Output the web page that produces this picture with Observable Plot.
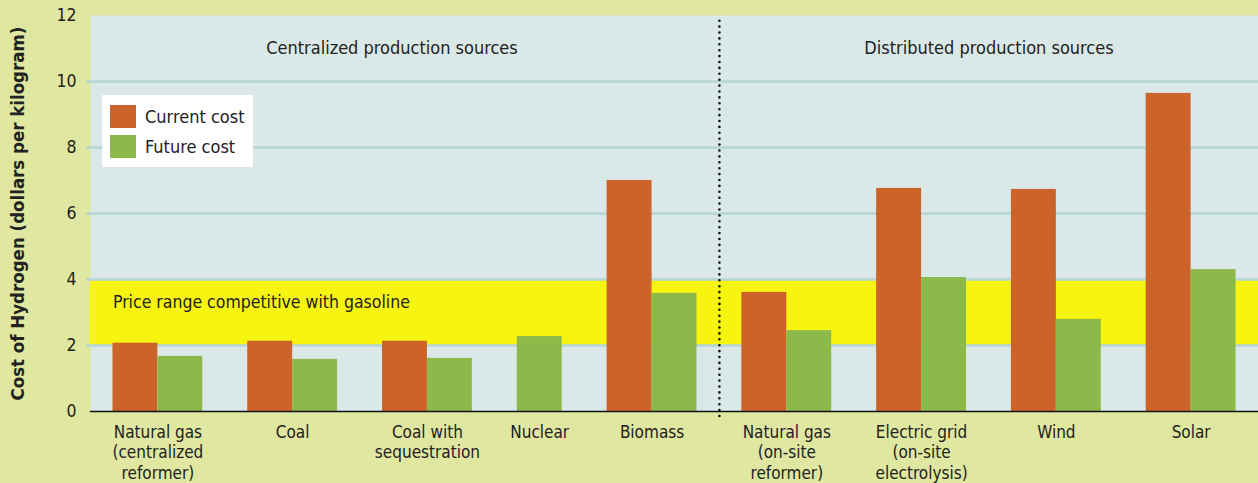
<!DOCTYPE html>
<html>
<head>
<meta charset="utf-8">
<script src="https://cdn.jsdelivr.net/npm/d3@7"></script>
<script src="https://cdn.jsdelivr.net/npm/@observablehq/plot@0.6"></script>
<style>
  html, body { margin: 0; padding: 0; background: #dfe7a0; }
  #wrap { position: relative; width: 1258px; height: 483px; }
  #legend {
    position: absolute; left: 102px; top: 95px; width: 151px; height: 72px;
    background: #ffffff; box-sizing: border-box; padding: 6px 0 0 8px;
    font-family: "Liberation Sans Narrow", "DejaVu Sans Condensed", sans-serif;
    font-size: 18px; color: #222;
  }
  #legend .row { display: flex; align-items: center; height: 30px; }
  #legend .sw { width: 26px; height: 23px; margin-right: 9px; }
</style>
</head>
<body>
<div id="wrap">
  <div id="chart"></div>
  <div id="legend"></div>
</div>
<script>
// ---- Data ----
const categories = [
  "Natural gas\n(centralized\nreformer)",
  "Coal",
  "Coal with\nsequestration",
  "Nuclear",
  "Biomass",
  "Natural gas\n(on-site\nreformer)",
  "Electric grid\n(on-site\nelectrolysis)",
  "Wind",
  "Solar"
];
const sourceGroup = ["Centralized", "Centralized", "Centralized", "Centralized", "Centralized",
                     "Distributed", "Distributed", "Distributed", "Distributed"];
const currentCost = [2.07, 2.13, 2.13, null, 7.0, 3.61, 6.76, 6.73, 9.64];
const futureCost  = [1.67, 1.58, 1.61, 2.27, 3.58, 2.45, 4.06, 2.79, 4.30];
const seriesNames = ["Current cost", "Future cost"];
const seriesColors = ["#cc632a", "#8db84a"];
const regionLabels = ["Centralized production sources", "Distributed production sources"];
const gasolineRange = [2, 4];
const gasolineLabel = "Price range competitive with gasoline";
const yTicks = [0, 2, 4, 6, 8, 10, 12];
const yLabel = "Cost of Hydrogen (dollars per kilogram)";

// ---- Build slot layout: each bar takes one slot, one empty slot between groups ----
const bars = [];
const labels = [];
let cursor = 0.5;
let dividerAt = null;
categories.forEach((cat, i) => {
  const vals = [currentCost[i], futureCost[i]];
  const present = vals.map((v, s) => ({v, s})).filter(d => d.v != null);
  if (i > 0 && sourceGroup[i] !== sourceGroup[i - 1]) dividerAt = cursor - 0.5;
  const start = cursor;
  present.forEach((d, k) => {
    bars.push({x1: start + k, x2: start + k + 1, value: d.v, series: seriesNames[d.s]});
  });
  labels.push({x: start + present.length / 2, label: cat});
  cursor += present.length + 1;
});
const xMax = cursor - 0.5;
const regions = [
  {x: dividerAt / 2, label: regionLabels[0], shift: -13},
  {x: (dividerAt + xMax) / 2, label: regionLabels[1], shift: 0}
];

const font = '"Liberation Sans Narrow", "DejaVu Sans Condensed", sans-serif';
const gridColor = "#b5d5d6";

const chart = Plot.plot({
  width: 1258,
  height: 483,
  marginLeft: 90,
  marginRight: 0,
  marginTop: 15,
  marginBottom: 72,
  style: {background: "transparent", fontFamily: font, fontSize: "17px", color: "#222", overflow: "visible"},
  x: {domain: [0, xMax], axis: null},
  y: {domain: [0, 12], axis: null},
  color: {domain: seriesNames, range: seriesColors},
  marks: [
    Plot.frame({fill: "#dae8e8", stroke: null}),
    Plot.rectY([gasolineRange], {y1: d => d[0], y2: d => d[1], fill: "#f7f410"}),
    Plot.ruleY(yTicks.filter(t => t > 0 && t < 12), {stroke: gridColor, strokeWidth: 2.5, insetLeft: -4}),
    Plot.axisY({ticks: yTicks, tickSize: 0, tickPadding: 14, fontSize: 17.5, label: null}),
    Plot.text([yLabel], {frameAnchor: "left", textAnchor: "middle", rotate: -90, dx: -72, fontSize: 18.5, fontWeight: "bold", fill: "#222"}),
    Plot.text([gasolineLabel], {x: 0.5, y: (gasolineRange[0] + gasolineRange[1]) / 2, textAnchor: "start", dy: -10, fontSize: 17.5, fill: "#222"}),
    Plot.rectY(bars, {x1: "x1", x2: "x2", y: "value", fill: "series"}),
    Plot.ruleX([dividerAt], {y1: 0, y2: 12, stroke: "#111", strokeWidth: 2.6, strokeDasharray: "0,5.9", strokeLinecap: "round", insetTop: 5}),
    Plot.ruleY([0], {stroke: "#111", strokeWidth: 1.6}),
    Plot.text(regions.slice(0, 1), {x: "x", y: 11, text: "label", fontSize: 18, fill: "#222", dx: regions[0].shift}),
    Plot.text(regions.slice(1), {x: "x", y: 11, text: "label", fontSize: 18, fill: "#222", dx: regions[1].shift}),
    Plot.text(labels, {x: "x", y: 0, text: "label", lineAnchor: "top", dy: 12, fontSize: 17, lineHeight: 1.2, fill: "#222"})
  ]
});
document.getElementById("chart").appendChild(chart);

// ---- Legend ----
const legend = document.getElementById("legend");
seriesNames.forEach((name, i) => {
  const row = document.createElement("div");
  row.className = "row";
  const sw = document.createElement("div");
  sw.className = "sw";
  sw.style.background = seriesColors[i];
  const t = document.createElement("span");
  t.textContent = name;
  row.appendChild(sw);
  row.appendChild(t);
  legend.appendChild(row);
});
</script>
</body>
</html>
